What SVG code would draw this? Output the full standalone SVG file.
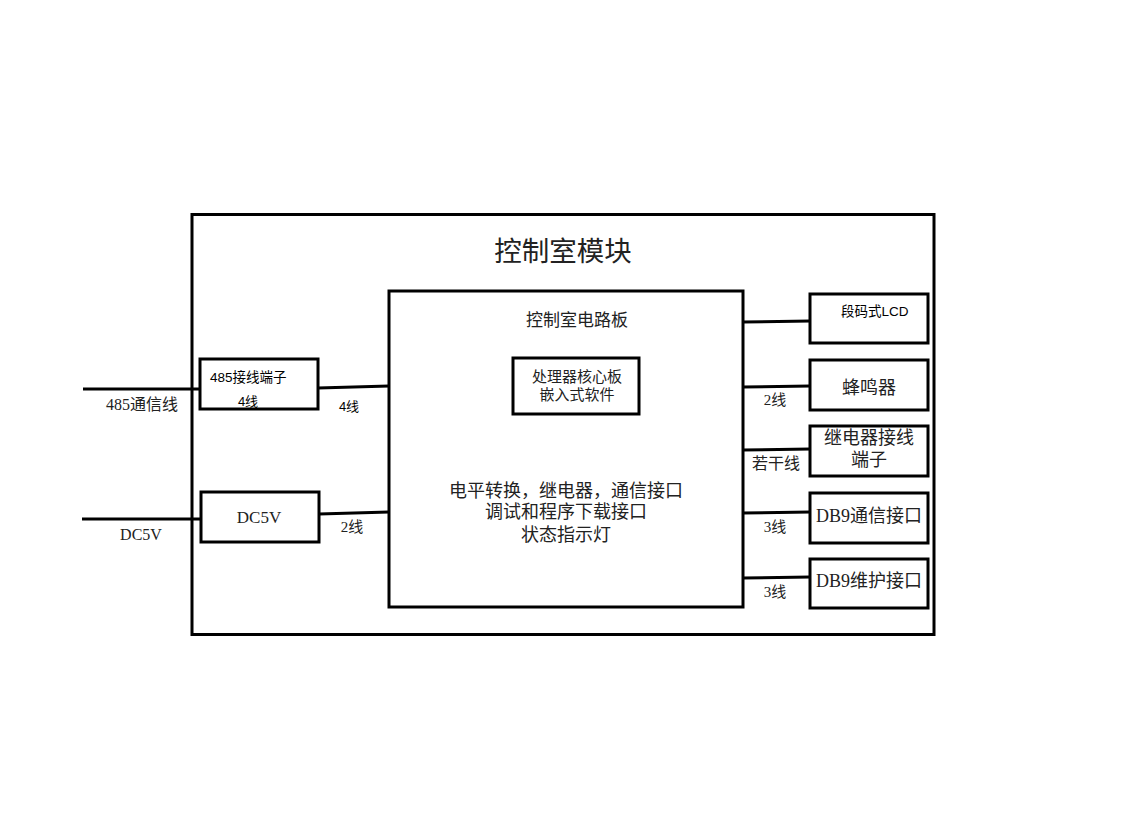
<svg xmlns="http://www.w3.org/2000/svg" width="1145" height="823" viewBox="0 0 1145 823">
<style>
.box{fill:none;stroke:#000;stroke-width:3}
.ln{stroke:#000;stroke-width:3;fill:none}
.s{font-family:"Liberation Serif","Noto Sans CJK SC",serif;fill:#222;text-anchor:middle}
.a{font-family:"Liberation Sans","Noto Sans CJK SC",sans-serif;fill:#000}
</style>
<rect width="1145" height="823" fill="#fff"/>
<g id="module">
<rect class="box" x="192" y="214.5" width="742" height="420"/>
<text class="s" x="563" y="261" font-size="27.5">控制室模块</text>
</g>
<g id="board">
<rect class="box" x="389" y="291" width="354" height="316"/>
<text class="s" x="577" y="326" font-size="17">控制室电路板</text>
<text class="s" x="566" y="497" font-size="18">电平转换，继电器，通信接口</text>
<text class="s" x="566" y="518" font-size="18">调试和程序下载接口</text>
<text class="s" x="566" y="541" font-size="18">状态指示灯</text>
</g>
<g id="cpu">
<rect class="box" x="513" y="358" width="126" height="56"/>
<text class="s" x="577" y="382" font-size="15">处理器核心板</text>
<text class="s" x="577" y="400" font-size="15">嵌入式软件</text>
</g>
<g id="t485">
<rect class="box" x="200" y="359" width="118" height="50"/>
<text class="a" x="210" y="382" font-size="13.5">485接线端子</text>
<text class="a" x="248" y="406" font-size="13" text-anchor="middle">4线</text>
</g>
<g id="dc5v">
<rect class="box" x="201" y="492" width="118" height="50"/>
<text class="s" x="259" y="523" font-size="17">DC5V</text>
</g>
<g id="lcd">
<rect class="box" x="810" y="294" width="118" height="49"/>
<text class="a" x="841" y="316" font-size="13.5">段码式LCD</text>
</g>
<g id="buzzer">
<rect class="box" x="810" y="360" width="118" height="50"/>
<text class="s" x="869" y="394" font-size="18">蜂鸣器</text>
</g>
<g id="relay">
<rect class="box" x="810" y="426" width="118" height="50"/>
<text class="s" x="869" y="444" font-size="18">继电器接线</text>
<text class="s" x="869" y="466" font-size="18">端子</text>
</g>
<g id="db9c">
<rect class="box" x="810" y="493" width="118" height="50"/>
<text class="s" x="869" y="522" font-size="18">DB9通信接口</text>
</g>
<g id="db9m">
<rect class="box" x="810" y="559" width="118" height="49"/>
<text class="s" x="869" y="587" font-size="18">DB9维护接口</text>
</g>
<g id="connectors">
<line class="ln" x1="83" y1="389" x2="200" y2="389"/>
<line class="ln" x1="82" y1="519" x2="201" y2="519"/>
<line class="ln" x1="318" y1="388" x2="389" y2="386"/>
<line class="ln" x1="319" y1="514" x2="389" y2="512"/>
<line class="ln" x1="743" y1="322" x2="810" y2="321"/>
<line class="ln" x1="743" y1="387" x2="810" y2="386"/>
<line class="ln" x1="743" y1="450" x2="810" y2="449"/>
<line class="ln" x1="743" y1="513" x2="810" y2="512"/>
<line class="ln" x1="743" y1="578" x2="810" y2="577"/>
<text class="s" x="142" y="410" font-size="16">485通信线</text>
<text class="s" x="141" y="540" font-size="16">DC5V</text>
<text class="a" x="349" y="411" font-size="13" text-anchor="middle">4线</text>
<text class="s" x="352" y="532" font-size="15">2线</text>
<text class="s" x="775" y="405" font-size="15">2线</text>
<text class="s" x="776" y="469" font-size="16">若干线</text>
<text class="s" x="775" y="532" font-size="15">3线</text>
<text class="s" x="775" y="597" font-size="15">3线</text>
</g>
</svg>
